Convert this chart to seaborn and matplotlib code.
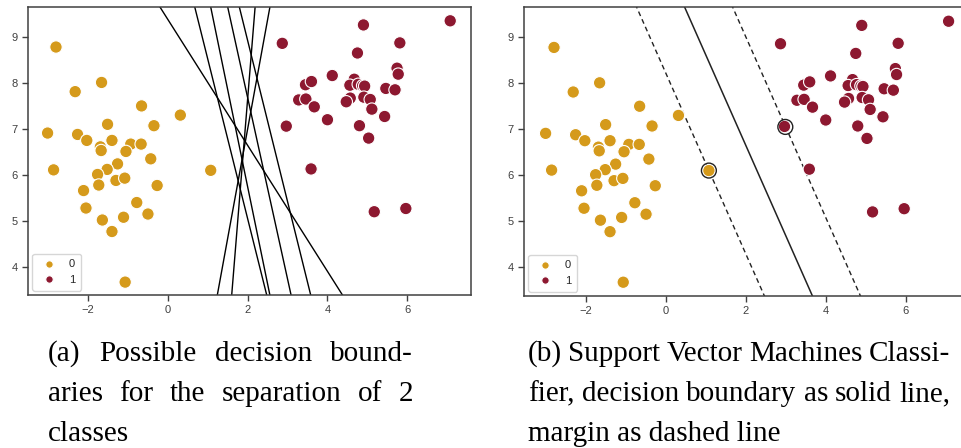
import numpy as np
import pandas as pd
import matplotlib
matplotlib.use("Agg")
import matplotlib.pyplot as plt
import seaborn as sns

# class 0 points
x0 = [-2.79, -1.65, -2.31, -0.65, 0.32, -1.50, -0.34, -3.00, -2.25, -2.02,
      -1.39, -1.68, -1.66, -0.92, -0.66, -1.04, -0.42, -1.25, -1.51, -2.85,
      -1.75, 1.08, -1.72, -1.29, -1.07, -0.26, -2.10, -2.04, -0.77, -0.49,
      -1.63, -1.10, -1.39, -1.06]
y0 = [8.78, 8.01, 7.81, 7.50, 7.30, 7.10, 7.07, 6.91, 6.88, 6.75,
      6.75, 6.61, 6.53, 6.67, 6.67, 6.51, 6.35, 6.24, 6.12, 6.11,
      6.01, 6.10, 5.78, 5.88, 5.93, 5.77, 5.66, 5.28, 5.40, 5.15,
      5.02, 5.08, 4.77, 3.67]

# class 1 points
x1 = [7.07, 4.90, 2.87, 5.81, 4.75, 5.74, 5.77, 4.12, 3.45, 3.60,
      4.67, 4.56, 4.77, 4.88, 4.93, 5.46, 5.69, 3.28, 3.46, 3.67,
      4.57, 4.47, 4.91, 5.07, 5.11, 5.43, 4.00, 2.97, 4.80, 5.03,
      3.59, 5.17, 5.96]
y1 = [9.35, 9.26, 8.86, 8.87, 8.65, 8.32, 8.19, 8.16, 7.96, 8.03,
      8.08, 7.95, 7.97, 7.94, 7.93, 7.88, 7.85, 7.63, 7.65, 7.48,
      7.67, 7.59, 7.69, 7.64, 7.43, 7.27, 7.20, 7.06, 7.07, 6.80,
      6.13, 5.20, 5.27]

# candidate boundaries for panel (a): x = a + b*y
cand_a = [6.847, 3.455, 3.361, 3.948, 4.547, 1.288, 0.533]
cand_b = [-0.7292, -0.2875, -0.2364, -0.2532, -0.2851, 0.0935, 0.2101]

# svm boundary for panel (b): x = svm_a + svm_b*y, margin shift svm_m
svm_a = 5.38
svm_b = -0.508
svm_m = 1.2
sv_x = [1.08, 2.99]
sv_y = [6.10, 7.05]

caption_a = ["(a) Possible decision bound-", "aries for the separation of 2", "classes"]
caption_b = ["(b) Support Vector Machines Classi-", "fier, decision boundary as solid line,",
             "margin as dashed line"]

palette = {0: "#D59A1B", 1: "#8D1830"}

df = pd.DataFrame({"x": x0 + x1, "y": y0 + y1,
                   "label": [0] * len(x0) + [1] * len(x1)})

sns.set_style("ticks")
plt.rcParams["font.family"] = ["Liberation Sans", "DejaVu Sans"]

W, H = 962, 448
fig = plt.figure(figsize=(W / 100, H / 100), dpi=100)
ax1 = fig.add_axes([28 / W, 153 / H, 443 / W, 288 / H])
ax2 = fig.add_axes([524 / W, 152 / H, 443 / W, 289 / H])

yy = np.array([2.0, 11.0])

for ax in (ax1, ax2):
    sns.scatterplot(data=df, x="x", y="y", hue="label", palette=palette,
                    s=80, edgecolor="white", linewidth=0.8, ax=ax, zorder=3)
    sns.move_legend(ax, "lower left", title=None, fontsize=8, markerscale=0.6,
                    borderaxespad=0.4, handletextpad=0.8, borderpad=0.5)
    ax.set_xlabel("")
    ax.set_ylabel("")
    ax.set_xticks([-2, 0, 2, 4, 6])
    ax.set_yticks([4, 5, 6, 7, 8, 9])
    ax.tick_params(labelsize=8, length=4, width=1, colors=".25")
    for sp in ax.spines.values():
        sp.set_color(".25")
        sp.set_linewidth(1.1)

for a, b in zip(cand_a, cand_b):
    ax1.plot(a + b * yy, yy, color="black", lw=1.0, zorder=2)

ax2.plot(svm_a + svm_b * yy, yy, color="#222222", lw=1.1, zorder=2)
for s in (-svm_m, svm_m):
    ax2.plot(svm_a + s + svm_b * yy, yy, color="#222222", lw=1.0,
             dashes=(3.5, 2.5), zorder=2)
ax2.scatter(sv_x, sv_y, s=115, facecolors="none", edgecolors="#222222",
            linewidths=1.0, zorder=4)

ax1.set_xlim(-3.49, 7.59)
ax1.set_ylim(3.39, 9.65)
ax2.set_xlim(-3.54, 7.53)
ax2.set_ylim(3.37, 9.66)

# captions, first lines justified like the latex source
cap_font = dict(family=["Liberation Serif", "DejaVu Serif"], fontsize=21,
                color="black", va="baseline")
renderer = fig.canvas.get_renderer()


def put_line(line, x_px, base_px, width_px=None):
    if width_px is None:
        fig.text(x_px / W, 1 - base_px / H, line, **cap_font)
        return
    words = line.split(" ")
    texts = [fig.text(0, 0, w, **cap_font) for w in words]
    widths = [t.get_window_extent(renderer).width for t in texts]
    gap = (width_px - sum(widths)) / (len(words) - 1)
    x = x_px
    for t, w in zip(texts, widths):
        t.set_position((x / W, 1 - base_px / H))
        x += w + gap


bases = [361, 401, 441]
for i, line in enumerate(caption_a):
    put_line(line, 48, bases[i], 365 if i < 2 else None)
for i, line in enumerate(caption_b):
    put_line(line, 528, bases[i], 422 if i < 2 else None)

fig.savefig("out.png", dpi=100)
